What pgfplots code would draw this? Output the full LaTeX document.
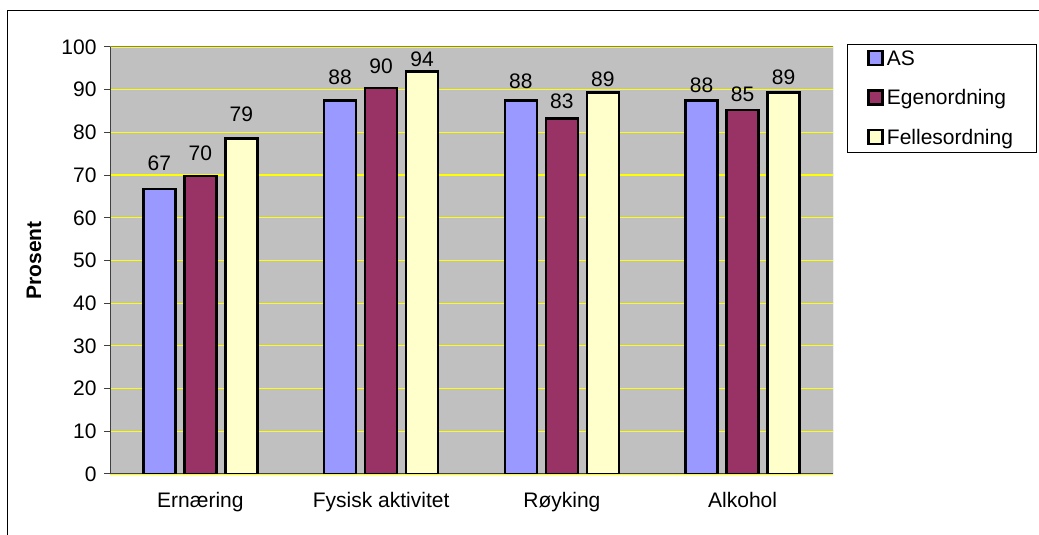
\documentclass[border=0pt]{standalone}
\usepackage{pgfplots}
\usepackage{pgfplotstable}
\pgfplotsset{compat=1.18}
\usepackage{fontspec}
\setmainfont{Liberation Sans}

\definecolor{plotgray}{HTML}{C0C0C0}
\definecolor{asblue}{HTML}{9999FF}
\definecolor{egenred}{HTML}{993366}
\definecolor{felles}{HTML}{FFFFCC}
\definecolor{gridyellow}{HTML}{FFFF00}

\newcommand{\chartfont}{\fontsize{21bp}{25bp}\selectfont}

% x = category, y = percent, lab = printed value, dy = label gap above bar (bp)
\pgfplotstableread{
x y lab dy
0 66.7 67 17
1 87.5 88 14
2 87.5 88 10
3 87.5 88 6
}\tabAS
\pgfplotstableread{
x y lab dy
0 69.8 70 14
1 90.4 90 13
2 83.3 83 8
3 85.2 85 7
}\tabEgen
\pgfplotstableread{
x y lab dy
0 78.6 79 15
1 94.3 94 3
2 89.3 89 5
3 89.3 89 7
}\tabFelles

\begin{document}
\begin{tikzpicture}[x=1bp,y=1bp]
\path[use as bounding box] (0,0) rectangle (1039,535);
% chart area frame
\draw[line width=1bp, black] (7,0) -- (7,524) -- (1039,524);

\begin{axis}[
    at={(110bp,61bp)}, anchor=south west,
    scale only axis,
    width=723bp, height=427bp,
    axis background/.style={fill=plotgray},
    xmin=-0.5, xmax=3.5,
    ymin=0, ymax=100,
    ytick={0,10,...,100},
    xtick={0,1,2,3},
    xticklabels={Ernæring, Fysisk aktivitet, Røyking, Alkohol},
    major x tick style={draw=none},
    extra x ticks={-0.5,0.5,1.5,2.5,3.5},
    extra x tick labels={},
    extra x tick style={major tick length=6bp, tick style={draw=black!75, line width=1bp}},
    axis lines=left,
    axis line style={-, draw=black!75, line width=1bp},
    tick align=outside,
    major tick length=6bp,
    ytick style={draw=black!75, line width=1bp},
    ymajorgrids,
    grid style={gridyellow, line width=1.2bp},
    /pgf/number format/assume math mode=true,
    ticklabel style={font=\chartfont},
    xticklabel style={yshift=-9bp},
    yticklabel style={xshift=-4bp},
    ylabel={\bfseries Prosent},
    ylabel style={font=\chartfont, at={(axis description cs:-0.105,0.5)}, anchor=center},
    ybar=9bp, bar width=32bp,
    point meta=explicit symbolic,
    nodes near coords,
    visualization depends on={\thisrow{dy} \as \labgap},
    nodes near coords style={font=\chartfont, black, inner sep=0pt, yshift=\labgap bp},
    legend style={at={(1.0194,1.007)}, anchor=north west, draw=black, line width=0.8bp,
        font=\chartfont, row sep=19bp, inner xsep=20bp, inner ysep=4bp,
        nodes={inner xsep=3bp}},
    legend cell align=left,
    legend image code/.code={\draw[#1, line width=2.5bp] (7bp,-6.5bp) rectangle (21bp,7.5bp);},
]

\addplot[fill=asblue, draw=black, line width=2.5bp]
    table[x=x, y=y, meta=lab] {\tabAS};
\addplot[fill=egenred, draw=black, line width=2.5bp]
    table[x=x, y=y, meta=lab] {\tabEgen};
\addplot[fill=felles, draw=black, line width=2.5bp]
    table[x=x, y=y, meta=lab] {\tabFelles};
\legend{AS, Egenordning, Fellesordning}

\draw[gray, line width=1bp] (rel axis cs:0,1) -- (rel axis cs:1,1) -- (rel axis cs:1,0);
\end{axis}
\end{tikzpicture}
\end{document}
